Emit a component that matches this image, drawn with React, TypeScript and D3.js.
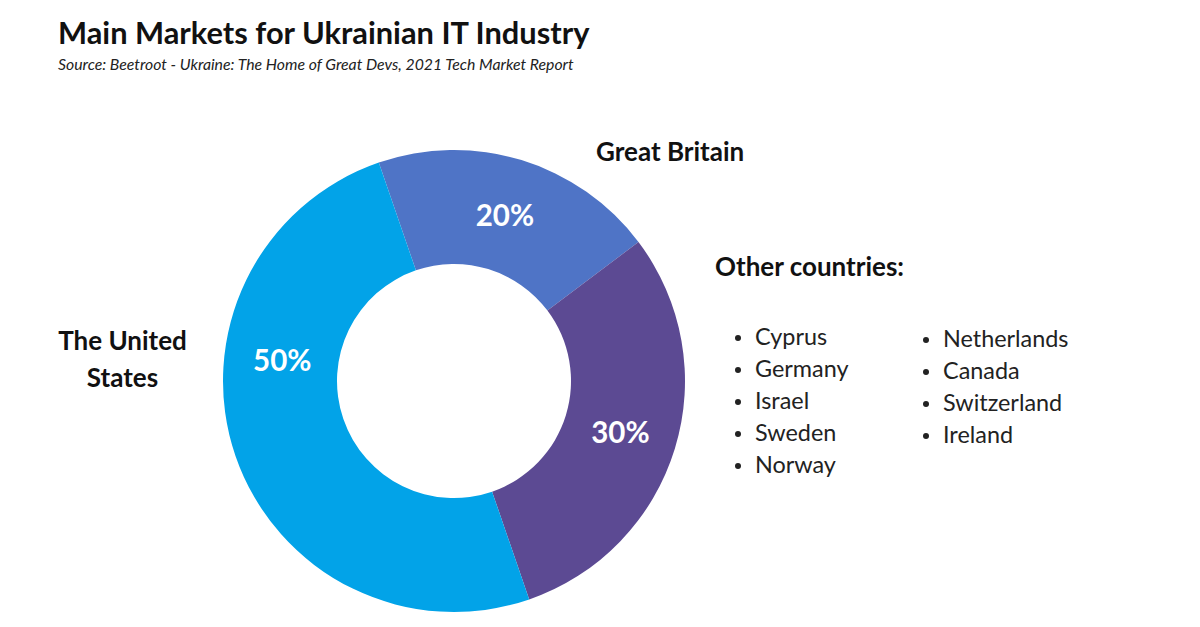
import React from "react";
import * as d3 from "d3";

const markets = ["Great Britain", "Other countries", "The United States"];
const shares = [20, 30, 50];
const shareLabels = ["20%", "30%", "50%"];
const colors = ["#4F74C6", "#5C4A93", "#02A3E8"];
const otherCol1 = ["Cyprus", "Germany", "Israel", "Sweden", "Norway"];
const otherCol2 = ["Netherlands", "Canada", "Switzerland", "Ireland"];

const W = 1200;
const H = 627;
const FONT = "Lato, 'Open Sans', sans-serif";

export default function App() {
  const cx = 454;
  const cy = 381;
  const outerR = 231;
  const innerR = 117;
  const start = (-19 * Math.PI) / 180;
  const pie = d3
    .pie<number>()
    .sort(null)
    .value((d) => d)
    .startAngle(start)
    .endAngle(start + 2 * Math.PI);
  const arcs = pie(shares);
  const arc = d3.arc<d3.PieArcDatum<number>>().innerRadius(innerR).outerRadius(outerR);
  const labelArc = d3.arc<d3.PieArcDatum<number>>().innerRadius(118).outerRadius(230);
  const usLabelAngle = (277 * Math.PI) / 180;

  const labelPos = (a: d3.PieArcDatum<number>, i: number) => {
    if (i === 2) {
      const r = 173;
      return [r * Math.sin(usLabelAngle), -r * Math.cos(usLabelAngle)];
    }
    return labelArc.centroid(a);
  };

  return (
    <svg
      width={W}
      height={H}
      style={{ position: "absolute", left: 0, top: 0, background: "#fff" }}
      fontFamily={FONT}
    >
      <rect width={W} height={H} fill="#fff" />
      <text x={58} y={44} fontSize={30.8} fontWeight={700} fill="#111">
        Main Markets for Ukrainian IT Industry
      </text>
      <text x={58} y={70} fontSize={15.8} fontStyle="italic" fill="#222">
        Source: Beetroot - Ukraine: The Home of Great Devs, 2021 Tech Market Report
      </text>

      <g transform={`translate(${cx},${cy})`}>
        {arcs.map((a, i) => (
          <path key={markets[i]} d={arc(a) || ""} fill={colors[i]} />
        ))}
        {arcs.map((a, i) => {
          const [x, y] = labelPos(a, i);
          return (
            <text
              key={"l" + i}
              x={x}
              y={y}
              textAnchor="middle"
              dominantBaseline="central"
              fontSize={29.5}
              fontWeight={700}
              fill="#fff"
            >
              {shareLabels[i]}
            </text>
          );
        })}
      </g>

      <text x={596} y={161} fontSize={26} fontWeight={700} fill="#111">
        {markets[0]}
      </text>
      <text x={715} y={276} fontSize={26} fontWeight={700} fill="#111">
        {markets[1]}:
      </text>
      <text x={122.5} y={350} fontSize={26} fontWeight={700} fill="#111" textAnchor="middle">
        The United
      </text>
      <text x={122.5} y={387} fontSize={26} fontWeight={700} fill="#111" textAnchor="middle">
        States
      </text>

      {otherCol1.map((c, i) => (
        <g key={c}>
          <circle cx={738} cy={338 + i * 32} r={3} fill="#222" />
          <text x={755} y={345 + i * 32} fontSize={23.4} fill="#222">
            {c}
          </text>
        </g>
      ))}
      {otherCol2.map((c, i) => (
        <g key={c}>
          <circle cx={926} cy={340 + i * 32} r={3} fill="#222" />
          <text x={943} y={347 + i * 32} fontSize={23.4} fill="#222">
            {c}
          </text>
        </g>
      ))}
    </svg>
  );
}
